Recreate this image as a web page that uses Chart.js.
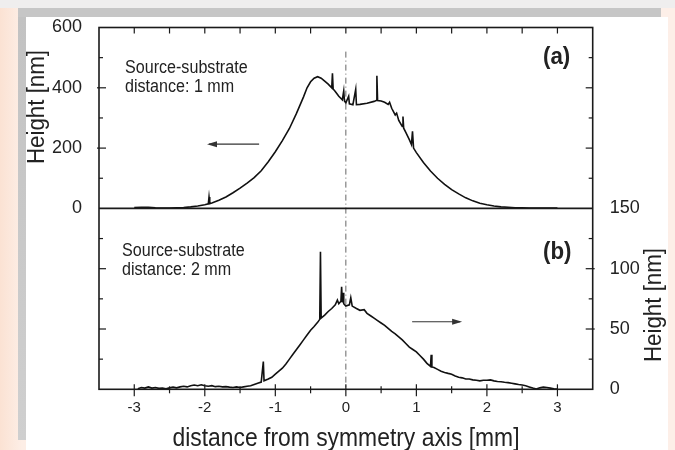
<!DOCTYPE html>
<html>
<head>
<meta charset="utf-8">
<script src="https://cdn.jsdelivr.net/npm/chart.js@4"></script>
<style>
html, body { margin: 0; padding: 0; }
body { width: 675px; height: 450px; position: relative; overflow: hidden;
  background: linear-gradient(90deg, #fbe2d3 0px, #fdeee6 22px, #fdefe8 100%); }
#top { position: absolute; left: 0; top: 0; width: 675px; height: 8px; background: #efeeee; }
#band { position: absolute; left: 18px; top: 8px; width: 643px; height: 9px; background: #c6c6c6; }
#side { position: absolute; left: 18px; top: 17px; width: 8px; height: 423px; background: linear-gradient(#c2c2c2, #cfcfcf); }
#white { position: absolute; left: 26px; top: 17px; width: 642px; height: 433px; background: #fff; }
canvas { position: absolute; left: 0; top: 0; }
</style>
</head>
<body>
<div id="top"></div><div id="band"></div><div id="side"></div><div id="white"></div>
<canvas id="c" width="675" height="450"></canvas>
<script>
// (a) source-substrate distance 1 mm, left axis [nm]
const aX = [-3.0, -2.9, -2.8, -2.7, -2.6, -2.5, -2.4, -2.3, -2.2, -2.1, -2.0, -1.95, -1.94, -1.93, -1.9,
  -1.8, -1.7, -1.6, -1.5, -1.4, -1.3, -1.2, -1.1, -1.0, -0.9, -0.8, -0.7, -0.6, -0.55, -0.5, -0.45,
  -0.4, -0.35, -0.3, -0.25, -0.2, -0.19, -0.18, -0.15, -0.1, -0.05, -0.03, -0.02, 0.0, 0.04, 0.05,
  0.1, 0.14, 0.15, 0.2, 0.3, 0.4, 0.43, 0.44, 0.45, 0.5, 0.55, 0.6, 0.62, 0.65, 0.7, 0.72, 0.75,
  0.8, 0.81, 0.82, 0.85, 0.9, 0.93, 0.945, 0.96, 1.0, 1.1, 1.2, 1.3, 1.4, 1.5, 1.6, 1.7, 1.8, 1.9,
  2.0, 2.1, 2.2, 2.3, 2.4, 2.5, 2.6, 2.7, 2.8, 2.9, 3.0];
const aY = [3, 4, 4, 2, 1, 1, 2, 3, 5, 8, 12, 15, 38, 16, 18,
  27, 38, 52, 67, 84, 102, 125, 155, 188, 225, 265, 315, 370, 400, 420, 432,
  437, 432, 422, 412, 400, 448, 396, 388, 372, 360, 390, 356, 350, 372, 347,
  344, 395, 344, 345, 349, 355, 358, 440, 358, 356, 352, 345, 352, 332, 310, 316, 292,
  272, 305, 266, 252, 228, 212, 256, 200, 185, 152, 124, 100, 80, 62, 48, 35, 25, 17,
  12, 8, 5, 4, 2, 2, 1, 1, 1, 1, 1];

// (b) source-substrate distance 2 mm, right axis [nm]
const bX = [-2.95, -2.9, -2.85, -2.8, -2.75, -2.7, -2.65, -2.6, -2.55, -2.5, -2.45, -2.4, -2.35, -2.3,
  -2.25, -2.2, -2.15, -2.1, -2.05, -2.0, -1.95, -1.9, -1.85, -1.8, -1.75, -1.7, -1.65, -1.6, -1.55,
  -1.5, -1.45, -1.4, -1.35, -1.3, -1.25, -1.2, -1.17, -1.16, -1.1, -1.05, -1.0, -0.95, -0.9, -0.85,
  -0.8, -0.75, -0.7, -0.65, -0.6, -0.55, -0.5, -0.45, -0.4, -0.37, -0.36, -0.35, -0.3, -0.25, -0.2,
  -0.15, -0.12, -0.1, -0.07, -0.06, -0.05, -0.04, -0.03, 0.0, 0.05, 0.07, 0.09, 0.15, 0.2, 0.26,
  0.3, 0.35, 0.4, 0.45, 0.5, 0.55, 0.6, 0.65, 0.7, 0.75, 0.8, 0.85, 0.9, 0.95, 1.0, 1.05, 1.1,
  1.15, 1.2, 1.21, 1.22, 1.25, 1.3, 1.35, 1.4, 1.45, 1.5, 1.55, 1.6, 1.65, 1.7, 1.75, 1.8, 1.85,
  1.9, 1.95, 2.0, 2.05, 2.1, 2.15, 2.2, 2.25, 2.3, 2.35, 2.4, 2.45, 2.5, 2.55, 2.6, 2.65, 2.7,
  2.75, 2.8, 2.85, 2.9, 2.95, 3.0];
const bY = [0.5, 1.5, 1, 2, 1, 1.5, 0.8, 1, 0.5, 1.2, 1.8, 1.2, 2, 2.5,
  2, 3, 3.5, 3, 3.8, 3, 2.5, 3, 2.2, 2.5, 2, 2.2, 1.8, 1.5, 2,
  1.5, 2, 2.5, 3, 4, 5, 6, 23, 7, 8.5, 10, 12.5, 15, 17.5, 21,
  25, 29, 33, 37, 41, 45, 49, 52, 55.5, 58, 114, 59, 61.5, 64.5, 67,
  70, 74, 71, 73, 85, 72, 80, 71, 69, 70, 76, 69, 67, 65.5, 66,
  63, 61, 59, 57, 55, 53, 50.5, 48, 46, 43.5, 41, 38, 35, 33, 31, 28, 25,
  21.5, 19, 28.6, 18.5, 18, 16.5, 15, 14, 13.2, 12.5, 11, 10, 9.5, 8.6, 8.5, 7.8, 7.5,
  7, 7.5, 7.5, 7.8, 7, 6.5, 6.2, 5.8, 5.5, 5, 4.5, 4, 3.6, 3, 2, 1, 0.3,
  1.2, 1.8, 1.5, 1, 0.5, 0.3];

const xMajor = [-3, -2, -1, 0, 1, 2, 3];
const xMinor = [-2.5, -1.5, -0.5, 0.5, 1.5, 2.5];
const aMajor = [200, 400];
const aMinor = [100, 300, 500];
const bMajor = [50, 100];
const bMinor = [25, 75, 125];

const FONT = "'Liberation Sans', Arial, sans-serif";
Chart.defaults.font.family = FONT;
Chart.defaults.color = '#222';

function seg(ctx, x1, y1, x2, y2) {
  ctx.beginPath(); ctx.moveTo(x1, y1); ctx.lineTo(x2, y2); ctx.stroke();
}
function arrow(ctx, x1, x2, y) {
  seg(ctx, x1, y, x2, y);
  const d = x2 > x1 ? 1 : -1;
  ctx.beginPath();
  ctx.moveTo(x2 + d * 2, y);
  ctx.lineTo(x2 - d * 8, y - 3);
  ctx.lineTo(x2 - d * 8, y + 3);
  ctx.closePath(); ctx.fill();
}
// narrow text, the figure uses a condensed sans
function ntext(ctx, str, x, y, sx, rot) {
  ctx.save();
  ctx.translate(x, y);
  if (rot) ctx.rotate(rot);
  ctx.scale(sx, 1);
  ctx.fillText(str, 0, 0);
  ctx.restore();
}

const framePlugin = {
  id: 'frame',
  afterDatasetsDraw(chart) {
    const { ctx, chartArea: a, scales: { x, yL, yR } } = chart;
    ctx.save();
    ctx.strokeStyle = '#1a1a1a';
    ctx.fillStyle = '#1a1a1a';
    ctx.lineWidth = 1.6;
    ctx.strokeRect(a.left, a.top, a.right - a.left, a.bottom - a.top);
    const ym = yL.getPixelForValue(0);
    seg(ctx, a.left, ym, a.right, ym);

    ctx.lineWidth = 1.2;
    xMajor.forEach(v => { const p = x.getPixelForValue(v); seg(ctx, p, a.bottom - 5, p, a.bottom + 7); });
    xMinor.forEach(v => { const p = x.getPixelForValue(v); seg(ctx, p, a.bottom - 3, p, a.bottom + 4); });
    xMajor.concat(xMinor).forEach(v => { const p = x.getPixelForValue(v); seg(ctx, p, a.top, p, a.top + 6); });

    aMajor.forEach(v => { const p = yL.getPixelForValue(v);
      seg(ctx, a.left - 2, p, a.left + 7, p); seg(ctx, a.right - 7, p, a.right, p); });
    aMinor.forEach(v => { const p = yL.getPixelForValue(v);
      seg(ctx, a.left, p, a.left + 4, p); seg(ctx, a.right - 4, p, a.right, p); });
    bMajor.forEach(v => { const p = yR.getPixelForValue(v);
      seg(ctx, a.left, p, a.left + 7, p); seg(ctx, a.right - 7, p, a.right + 2, p); });
    bMinor.forEach(v => { const p = yR.getPixelForValue(v);
      seg(ctx, a.left, p, a.left + 4, p); seg(ctx, a.right - 4, p, a.right, p); });

    // direction arrows
    ctx.lineWidth = 1.2;
    ctx.strokeStyle = '#333'; ctx.fillStyle = '#333';
    arrow(ctx, x.getPixelForValue(-1.23), x.getPixelForValue(-1.94), yL.getPixelForValue(213));
    arrow(ctx, x.getPixelForValue(0.94), x.getPixelForValue(1.62), yR.getPixelForValue(56));

    // annotations
    ctx.fillStyle = '#222';
    ctx.textBaseline = 'alphabetic';
    ctx.textAlign = 'left';
    ctx.font = '17.5px ' + FONT;
    ntext(ctx, 'Source-substrate', 125, 73, 0.92);
    ntext(ctx, 'distance: 1 mm', 125, 92, 0.92);
    ntext(ctx, 'Source-substrate', 122, 256, 0.92);
    ntext(ctx, 'distance: 2 mm', 122, 275, 0.92);
    ctx.font = 'bold 23px ' + FONT;
    ntext(ctx, '(a)', 543, 64, 0.97);
    ntext(ctx, '(b)', 543, 259, 0.97);

    // axis titles
    ctx.textAlign = 'center';
    ctx.font = '26px ' + FONT;
    ntext(ctx, 'distance from symmetry axis [mm]', 346, 446, 0.88);
    ctx.textBaseline = 'middle';
    ctx.font = '23.5px ' + FONT;
    ntext(ctx, 'Height [nm]', 38, 107, 0.95, -Math.PI / 2);
    ntext(ctx, 'Height [nm]', 655, 305, 0.95, -Math.PI / 2);
    ctx.restore();
  }
};

const lineStyle = { borderColor: '#111', borderWidth: 1.6, pointRadius: 0, tension: 0, fill: false };

new Chart(document.getElementById('c'), {
  type: 'line',
  data: {
    datasets: [
      Object.assign({ label: 'a', yAxisID: 'yL', data: aX.map((v, i) => ({ x: v, y: aY[i] })) }, lineStyle),
      Object.assign({ label: 'b', yAxisID: 'yR', data: bX.map((v, i) => ({ x: v, y: bY[i] })) }, lineStyle),
      { label: 'axis', yAxisID: 'yL', data: [{ x: 0, y: 520 }, { x: 0, y: -600 }],
        borderColor: '#666', borderWidth: 1, borderDash: [6, 3, 1, 3], pointRadius: 0 }
    ]
  },
  options: {
    responsive: false,
    animation: false,
    devicePixelRatio: 1,
    layout: { padding: { top: 27.5, left: 0, right: 0, bottom: 0 } },
    plugins: { legend: { display: false }, tooltip: { enabled: false } },
    scales: {
      x: {
        type: 'linear', position: 'bottom', min: -3.5, max: 3.5,
        afterBuildTicks: s => { s.ticks = xMajor.map(v => ({ value: v })); },
        afterFit: s => { s.height = 60.7; },
        grid: { display: false }, border: { display: false },
        ticks: { padding: 2, font: { size: 15 }, maxRotation: 0, autoSkip: false }
      },
      yL: {
        type: 'linear', position: 'left', min: -600, max: 600,
        afterFit: s => { s.width = 99; },
        grid: { display: false }, border: { display: false },
        ticks: { stepSize: 200, padding: 9, font: { size: 18 }, callback: v => (v >= 0 ? v : '') }
      },
      yR: {
        type: 'linear', position: 'right', min: 0, max: 300,
        afterFit: s => { s.width = 82.3; },
        grid: { display: false }, border: { display: false },
        ticks: { stepSize: 50, padding: 9, font: { size: 18 }, callback: v => (v <= 150 ? v : '') }
      }
    }
  },
  plugins: [framePlugin]
});
</script>
</body>
</html>
